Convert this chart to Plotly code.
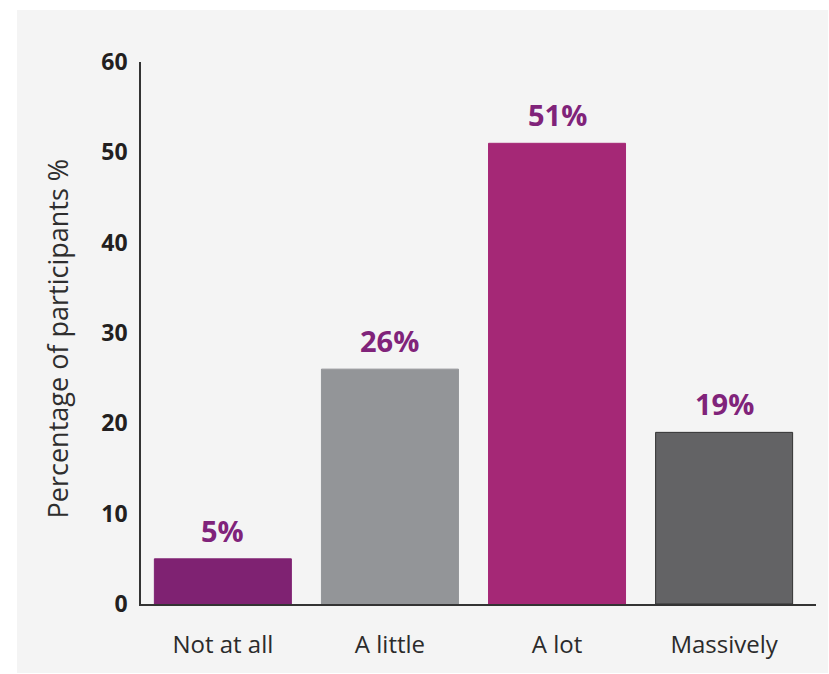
import plotly.graph_objects as go

categories = ["Not at all", "A little", "A lot", "Massively"]
values = [5, 26, 51, 19]
labels = ["5%", "26%", "51%", "19%"]
bar_colors = ["#7f2272", "#939598", "#a52876", "#636365"]
border_colors = ["#7f2272", "#939598", "#a52876", "#333333"]
y_ticks = [0, 10, 20, 30, 40, 50, 60]
y_title = "Percentage of participants %"

FONT = "Open Sans"

fig = go.Figure()
fig.add_trace(go.Bar(
    x=categories, y=values,
    marker=dict(color=bar_colors, line=dict(color=border_colors, width=1)),
    width=0.82,
    hoverinfo="skip",
))

for c, v, t in zip(categories, values, labels):
    fig.add_annotation(x=c, y=v, text=t, showarrow=False, yanchor="bottom",
                       yshift=7,
                       font=dict(family=FONT, size=29, color="#80237a", weight="bold"))

# light grey panel
L, R, T, B = 141, 13, 62, 70
W, H = 829 - L - R, 674 - T - B
fig.add_shape(type="rect", xref="paper", yref="paper",
              x0=(17 - L) / W, x1=(828 - L) / W,
              y0=(604 - 673) / H, y1=(604 - 10) / H,
              fillcolor="#f4f4f4", line=dict(width=0), layer="below")

# y-axis title
fig.add_annotation(xref="paper", yref="paper", x=(57 - L) / W, y=0.49,
                   xanchor="center", yanchor="middle", textangle=-90,
                   text=y_title, showarrow=False,
                   font=dict(family=FONT, size=27, color="#2e2e2e"))

fig.update_layout(
    width=829, height=674,
    margin=dict(l=L, r=R, t=T, b=B),
    paper_bgcolor="white",
    plot_bgcolor="rgba(0,0,0,0)",
    showlegend=False,
    xaxis=dict(
        range=[-0.49, 3.55],
        showline=True, linecolor="#333333", linewidth=1.5,
        showgrid=False, zeroline=False, ticks="",
        ticklabelstandoff=18,
        tickfont=dict(family=FONT, size=24, color="#2b2b2b"),
    ),
    yaxis=dict(
        range=[0, 60],
        tickvals=y_ticks,
        showline=True, linecolor="#333333", linewidth=1.5,
        showgrid=False, zeroline=False, ticks="",
        ticklabelstandoff=7,
        tickfont=dict(family=FONT, size=23, color="#231f20", weight="bold"),
    ),
)

fig.write_html("out.html")
